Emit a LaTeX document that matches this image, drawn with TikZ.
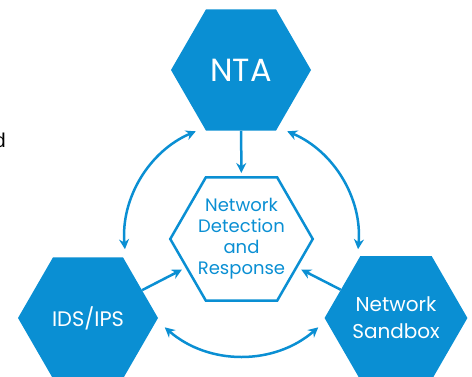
\documentclass[tikz,border=0pt]{standalone}
\usepackage{fontspec}
\setmainfont{Poppins}
\newfontfamily\arialfont{Liberation Sans}
\usetikzlibrary{shapes.geometric,arrows.meta,calc}
\definecolor{ndrblue}{HTML}{0A8FD3}

\begin{document}
\begin{tikzpicture}[x=1pt,y=-1pt,
	hexfill/.style={regular polygon, regular polygon sides=6, minimum size=140pt, inner sep=0pt, fill=ndrblue, text=white, align=center},
	hexline/.style={regular polygon, regular polygon sides=6, minimum size=137pt, inner sep=0pt, draw=ndrblue, line width=2.5pt, text=ndrblue, align=center},
	link/.style={draw=ndrblue, line width=2.5pt, -{Stealth[length=10pt,width=10pt]}},
	duplex/.style={link, {Stealth[length=10pt,width=10pt]}-{Stealth[length=10pt,width=10pt]}}]
	\useasboundingbox (0,0) rectangle (472,377);
	% hexagons
	\node[hexfill, font=\fontsize{32}{34}\selectfont] (nta) at (241,70) {NTA};
	\node[hexline, font=\fontsize{18}{21}\selectfont] (ndr) at (241.5,239) {Network\\Detection\\and\\Response};
	\node[hexfill, font=\fontsize{21}{24}\selectfont] (ids) at (88,318) {IDS/IPS};
	\node[hexfill, font=\fontsize{20}{27}\selectfont] (nsb) at (396,318) {Network\\Sandbox};
	% cropped text at the left edge
	\node[anchor=base east, inner sep=0pt, font=\arialfont\fontsize{20}{22}\selectfont] (cut) at (6,148) {d};
	% straight feeds into the centre
	\draw[link, shorten >=3pt] (nta) -- (ndr);
	\draw[link, shorten >=4pt] (ids) -- (ndr);
	\draw[link, shorten >=4pt] (nsb) -- (ndr);
	% arcs between the outer hexagons
	\coordinate (arcl) at ($(ndr)+(113:117pt)$);
	\coordinate (arcr) at ($(ndr)+(-5:117pt)$);
	\coordinate (arcb) at ($(ndr)+(229:117pt)$);
	\draw[duplex] (arcl) arc[start angle=113, end angle=185, radius=117pt];
	\draw[duplex] (arcr) arc[start angle=-5, end angle=67, radius=117pt];
	\draw[duplex] (arcb) arc[start angle=229, end angle=311, radius=117pt];
\end{tikzpicture}
\end{document}
